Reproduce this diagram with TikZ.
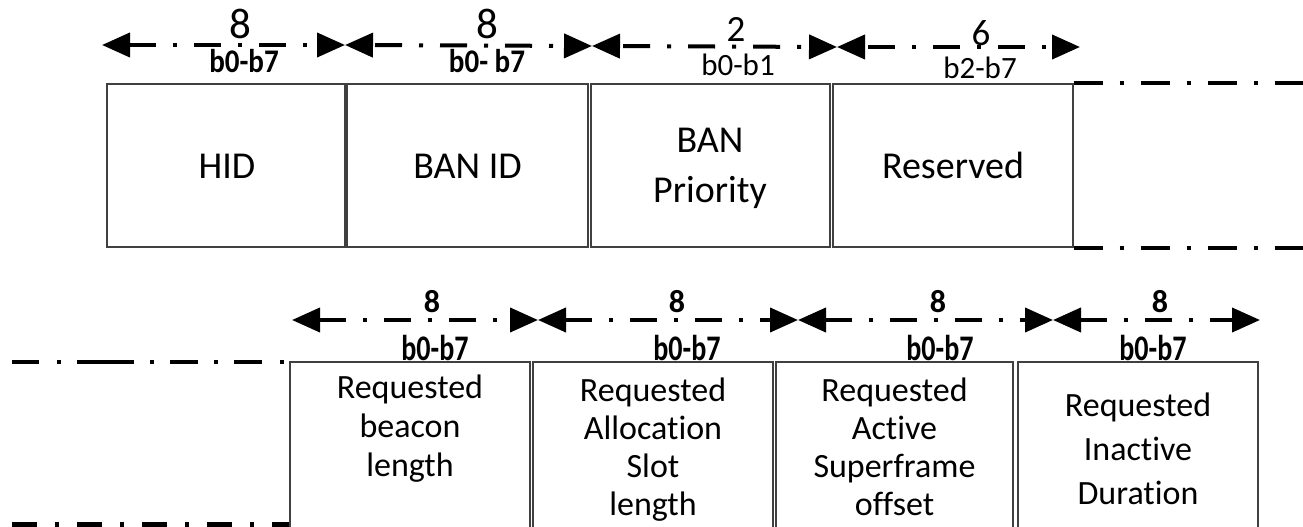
\documentclass[tikz,border=0pt]{standalone}
\usepackage{fontspec}
\setmainfont{Carlito}[Ligatures=NoCommon]
\newfontfamily\condA{Carlito}[FakeStretch=0.88, Ligatures=NoCommon]
\newfontfamily\condB{Carlito}[FakeStretch=0.78, Ligatures=NoCommon]
\usetikzlibrary{arrows.meta}
\begin{document}
\begin{tikzpicture}[x=1pt,y=-1pt,
  fieldbox/.style={draw=black!75, line width=1.2pt, inner sep=0pt, rectangle},
  topbox/.style={fieldbox, minimum height=163pt},
  botbox/.style={fieldbox, minimum height=168pt},
  bigtext/.style={inner sep=0pt, align=center, font=\fontsize{38}{50}\selectfont},
  smalltext/.style={inner sep=0pt, align=center},
  dimarrow/.style={line width=4pt,
    {Triangle[length=28pt,width=24pt]}-{Triangle[length=28pt,width=24pt]},
    dash pattern=on 27pt off 17pt on 4pt off 17pt},
  freedash/.style={line width=4pt, dash pattern=on 29pt off 17pt on 4pt off 17pt},
  lbl/.style={inner sep=0pt, anchor=base}
]
\useasboundingbox (0,0) rectangle (1303,527);

% ---- top row boxes ----
\node[topbox, minimum width=238pt] (hid) at (226,165.5) {};
\node[topbox, minimum width=241pt] (banid) at (467.5,165.5) {};
\node[topbox, minimum width=239pt] (banpri) at (710.5,165.5) {};
\node[topbox, minimum width=240pt] (res) at (953,165.5) {};

\node[bigtext, anchor=base] (thid) at (227,178) {HID};
\node[bigtext, anchor=base] (tbanid) at (467.5,178) {BAN ID};
\node[bigtext, anchor=north] (tbanpri) at (710,128) {BAN\\Priority};
\node[bigtext, anchor=base] (tres) at (953,178) {Reserved};

% top right continuation lines
\draw[freedash] (res.north east) -- ++(232,0) coordinate (trE);
\draw[freedash] (res.south east) -- ++(232,0) coordinate (brE);

% ---- top dimension arrows ----
\coordinate (ta0) at (102,45);
\coordinate (ta1) at (345,45);
\coordinate (ta2) at (592,46);
\coordinate (ta3) at (837,47);
\coordinate (ta4) at (1080,47);
\draw[dimarrow] (ta0) -- (ta1);
\draw[dimarrow, dash phase=62pt] (ta1) -- (ta2);
\draw[dimarrow, dash phase=61pt] (ta2) -- (ta3);
\draw[dimarrow, dash phase=61pt] (ta3) -- (ta4);

\node[lbl, font=\fontsize{43}{43}\selectfont] (n1) at (240,39) {8};
\node[lbl, font=\fontsize{33}{33}\selectfont\condA\bfseries] (r1) at (244,72) {b0-b7};
\node[lbl, font=\fontsize{43}{43}\selectfont] (n2) at (487,39) {8};
\node[lbl, font=\fontsize{33}{33}\selectfont\condA\bfseries] (r2) at (487,72) {b0- b7};
\node[lbl, font=\fontsize{37}{37}\selectfont] (n3) at (736,42) {2};
\node[lbl, font=\fontsize{31}{31}\selectfont] (r3) at (738,75) {b0-b1};
\node[lbl, font=\fontsize{37}{37}\selectfont] (n4) at (981,46) {6};
\node[lbl, font=\fontsize{31}{31}\selectfont] (r4) at (980,78) {b2-b7};

% ---- bottom row boxes ----
\node[botbox, minimum width=240pt] (rbl) at (410,446) {};
\node[botbox, minimum width=240pt] (ras) at (653,446) {};
\node[botbox, minimum width=237pt] (raso) at (894.5,446) {};
\node[botbox, minimum width=240pt] (rid) at (1138,446) {};

\node[smalltext, anchor=north, font=\fontsize{34}{39}\selectfont] (trbl) at (410,375) {Requested\\beacon\\length};
\node[smalltext, anchor=north, font=\fontsize{34}{38}\selectfont] (tras) at (653,378) {Requested\\Allocation\\Slot\\length};
\node[smalltext, anchor=north, font=\fontsize{34}{38}\selectfont] (traso) at (894.5,378) {Requested\\Active\\Superframe\\offset};
\node[smalltext, anchor=north, font=\fontsize{34}{44}\selectfont] (trid) at (1138,393) {Requested\\Inactive\\Duration};

% bottom left continuation lines
\coordinate (blA) at (12,362);
\coordinate (blB) at (12,524.5);
\draw[line width=4pt, dash pattern=on 27pt off 18pt on 4pt off 16pt on 57pt off 16pt on 4pt off 16pt on 28pt off 16pt on 4pt off 16pt on 28pt off 18pt on 4pt off 10pt]
  (blA) -- (blA -| rbl.west);
\draw[line width=5pt, dash pattern=on 25pt off 18pt on 4pt off 18pt]
  (blB) -- (blB -| rbl.west);

% ---- bottom dimension arrows ----
\coordinate (ba0) at (292,320);
\coordinate (ba1) at (538,320);
\coordinate (ba2) at (798,320);
\coordinate (ba3) at (1053,320);
\coordinate (ba4) at (1260,320);
\draw[dimarrow] (ba0) -- (ba1);
\draw[dimarrow] (ba1) -- (ba2);
\draw[dimarrow] (ba2) -- (ba3);
\draw[dimarrow] (ba3) -- (ba4);

\node[lbl, font=\fontsize{32}{32}\selectfont\bfseries] (m1) at (432,312) {8};
\node[lbl, font=\fontsize{36}{36}\selectfont\condB\bfseries] (s1) at (435,360) {b0-b7};
\node[lbl, font=\fontsize{32}{32}\selectfont\bfseries] (m2) at (677,312) {8};
\node[lbl, font=\fontsize{36}{36}\selectfont\condB\bfseries] (s2) at (687,360) {b0-b7};
\node[lbl, font=\fontsize{32}{32}\selectfont\bfseries] (m3) at (938,312) {8};
\node[lbl, font=\fontsize{36}{36}\selectfont\condB\bfseries] (s3) at (940,360) {b0-b7};
\node[lbl, font=\fontsize{32}{32}\selectfont\bfseries] (m4) at (1160,312) {8};
\node[lbl, font=\fontsize{36}{36}\selectfont\condB\bfseries] (s4) at (1153,360) {b0-b7};
\end{tikzpicture}
\end{document}
